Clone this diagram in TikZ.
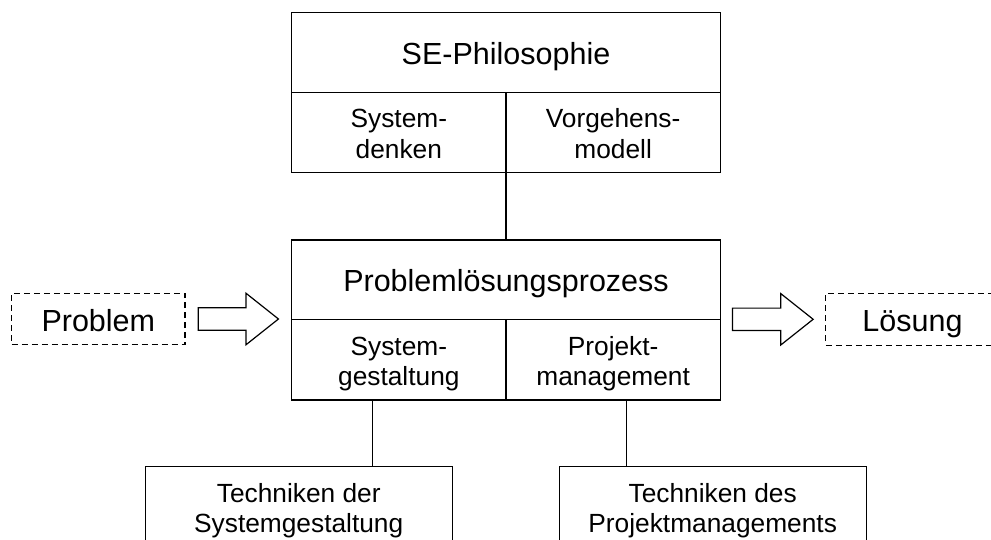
\documentclass[tikz,border=0pt]{standalone}
\usepackage{fontspec}
\setmainfont{Liberation Sans}
\usetikzlibrary{calc}

% two centred lines whose reference point is the baseline of the first line
\newcommand\twolines[2]{\begin{tabular}[t]{@{}c@{}}#1\\#2\end{tabular}}

% hollow block arrow from a tail point to a tip point (y axis points down)
\newcommand\blockarrow[2]{%
  \draw[frame, fill=white, line join=miter]
    ($(#1)+(0,-11.2)$) -- ($(#2)+(-32.5,-11.2)$) -- ($(#2)+(-32.5,-25.8)$)
    -- (#2) -- ($(#2)+(-32.5,25.8)$) -- ($(#2)+(-32.5,11.2)$)
    -- ($(#1)+(0,11.2)$) -- cycle;}

\begin{document}
\begin{tikzpicture}[x=1pt,y=-1pt,
  every node/.style={inner sep=0pt, outer sep=0pt},
  frame/.style={draw=black, line width=1.2pt},
  dashbox/.style={draw=black, line width=1.1pt, dash pattern=on 6pt off 4pt},
  bigtext/.style={font=\fontsize{30.5}{36}\selectfont, text height=24pt, text depth=0pt},
  smalltext/.style={font=\fontsize{26.3}{30.5}\selectfont, text height=0pt, text depth=9.4pt},
  halfcell/.style={frame, smalltext, minimum width=214.3pt, minimum height=80pt},
  wide/.style={frame, bigtext, minimum width=428.3pt, minimum height=80pt},
  outside/.style={dashbox, bigtext, minimum width=173.3pt, minimum height=51.5pt},
  technik/.style={frame, smalltext, minimum width=307pt, minimum height=80pt}]

  \fill[white] (0,0) rectangle (991,540);
  \useasboundingbox (0,0) rectangle (991,540);

  % SE philosophy block
  \node[wide] (seHead) at (506,52.3) {SE-Philosophie};
  \node[halfcell] (seSys) at (398.85,132.3) {\twolines{System-}{denken}};
  \node[halfcell] (seVor) at (613.15,132.3) {\twolines{Vorgehens-}{modell}};

  % problem solving process block
  \node[wide, minimum height=79.3pt] (plHead) at (506,279.7) {Problemlösungsprozess};
  \node[halfcell, minimum height=80.7pt] (plSys) at (398.85,359.7) {\twolines{System-}{gestaltung}};
  \node[halfcell, minimum height=80.7pt] (plPro) at (613.15,359.7) {\twolines{Projekt-}{management}};

  % input and output
  \node[outside] (problem) at (98.3,319) {Problem};
  \node[outside] (loesung) at (912.5,319.3) {Lösung};

  % techniques
  \node[technik] (tsg) at (298.7,506.7) {\twolines{Techniken der}{Systemgestaltung}};
  \node[technik] (tpm) at (712.7,506.7) {\twolines{Techniken des}{Projektmanagements}};

  % connectors
  \draw[frame] (seSys.south east) -- (plHead.north);
  \draw[frame] ([xshift=-26.5pt]plSys.south) -- ([xshift=-26.5pt]plSys.south |- tsg.north);
  \draw[frame] ([xshift=13pt]plPro.south) -- ([xshift=13pt]plPro.south |- tpm.north);

  % block arrows
  \coordinate (inTail) at ($(problem.east)+(13.3,0)$);
  \coordinate (inTip) at ($(plHead.west |- problem.east)+(-13.4,0)$);
  \coordinate (outTail) at ($(plHead.east |- loesung.west)+(12.3,0)$);
  \coordinate (outTip) at ($(loesung.west)+(-12.7,0)$);
  \blockarrow{inTail}{inTip}
  \blockarrow{outTail}{outTip}
\end{tikzpicture}
\end{document}
